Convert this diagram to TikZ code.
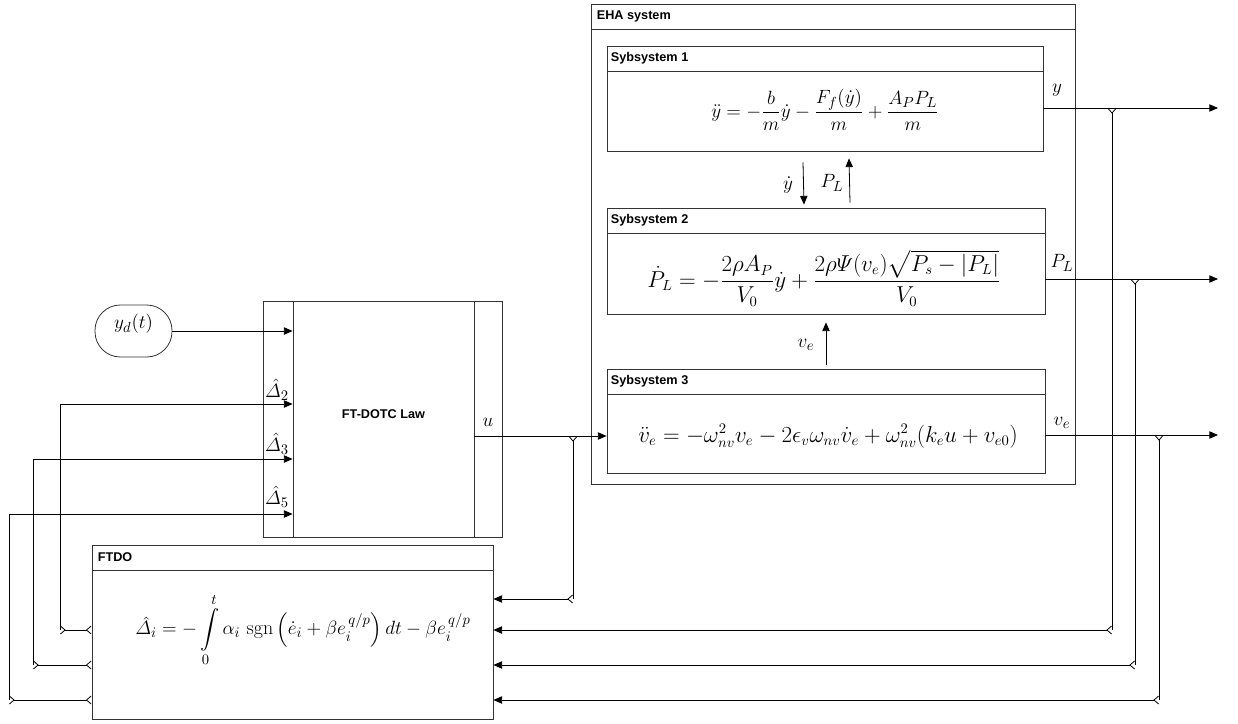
\documentclass[tikz,border=0pt]{standalone}
\usepackage{amsmath}
\usepackage{fontspec}
\setsansfont{Liberation Sans}
\usepackage{tikz}
\usetikzlibrary{arrows.meta, calc, fit}
\tikzset{
  blk/.style  ={draw=black!80, line width=0.6pt, inner sep=0pt},
  src/.style  ={blk, rounded corners=19pt},
  tfont/.style={font=\sffamily\bfseries\fontsize{9.5}{11}\selectfont},
  ttl/.style  ={tfont, anchor=west, inner sep=0pt},
  eqn/.style  ={font=\fontsize{16}{19}\selectfont, inner sep=0pt},
  lbl/.style  ={font=\fontsize{15}{18}\selectfont, inner sep=0pt},
  sig/.style  ={-{Triangle[length=6.5pt,width=5.5pt]}, line width=0.6pt},
  br/.style   ={{Straight Barb[reversed,length=3.5pt,width=6pt]}-, line width=0.6pt},
  brsig/.style={{Straight Barb[reversed,length=3.5pt,width=6pt]}-{Triangle[length=6.5pt,width=5.5pt]}, line width=0.6pt},
  bb/.style   ={{Straight Barb[reversed,length=3.5pt,width=6pt]}-{Straight Barb[reversed,length=3.5pt,width=6pt]}, line width=0.6pt},
}
\begin{document}
\begin{tikzpicture}[x=0.75pt, y=-0.75pt]
  \useasboundingbox (0,0) rectangle (1238,724);
  % control law and reference
  \node[blk, fit={(263,301) (502,537)}] (law) {};
  \node[blk, tfont, fit={(293,301) (474,537)}] (core) {FT-DOTC Law};
  \node[src, lbl, fit={(95,305) (172,357)}] (yd) {$y_d(t)$};
  % EHA system
  \node[blk, fit={(591,4) (1075,29)}] (ehah) {};
  \node[blk, fit={(591,29) (1075,484)}] (eha) {};
  \node[ttl] (ehat) at ([xshift=4.5pt]ehah.west) {EHA system};
  \node[blk, fit={(607,46) (1043,71)}] (s1h) {};
  \node[blk, fit={(607,71) (1043,151)}] (s1) {};
  \node[ttl] (s1t) at ([xshift=3pt]s1h.west) {Sybsystem 1};
  \node[eqn, font=\fontsize{15.5}{18}\selectfont] (s1e) at (825,110)
    {$\displaystyle \ddot{y} = -\frac{b}{m}\dot{y} - \frac{F_f(\dot{y})}{m} + \frac{A_P P_L}{m}$};
  \node[blk, fit={(607,208) (1045,233)}] (s2h) {};
  \node[blk, fit={(607,233) (1045,314)}] (s2) {};
  \node[ttl] (s2t) at ([xshift=3pt]s2h.west) {Sybsystem 2};
  \node[eqn] (s2e) at (824,278)
    {$\displaystyle \dot{P}_L = -\frac{2\rho A_P}{V_0}\dot{y} + \frac{2\rho\varPsi(v_e)\sqrt{P_s-|P_L|}}{V_0}$};
  \node[blk, fit={(607,369) (1045,394)}] (s3h) {};
  \node[blk, fit={(607,394) (1045,473)}] (s3) {};
  \node[ttl] (s3t) at ([xshift=3pt]s3h.west) {Sybsystem 3};
  \node[eqn] (s3e) at (828,436)
    {$\ddot{v}_e = -\omega_{nv}^2 v_e - 2\epsilon_v\omega_{nv}\dot{v}_e + \omega_{nv}^2(k_e u + v_{e0})$};
  % observer
  \node[blk, fit={(92,545) (493,570)}] (fdh) {};
  \node[blk, fit={(92,570) (493,719)}] (fd) {};
  \node[ttl] (fdt) at ([xshift=4.5pt]fdh.west) {FTDO};
  \node[eqn, font=\fontsize{15}{18}\selectfont] (fde) at (303,630)
    {$\displaystyle \hat{\varDelta}_i = -\int\limits_0^t \alpha_i\,\operatorname{sgn}\left(\dot{e}_i + \beta e_i^{\,q/p}\right)dt - \beta e_i^{\,q/p}$};

  % branch points and corners
  \coordinate (ju) at (573,436);
  \coordinate (ku) at (573,599);
  \coordinate (jy) at (1112,108);
  \coordinate (ky) at (1112,630);
  \coordinate (jp) at (1135,279);
  \coordinate (kp) at (1135,665);
  \coordinate (jv) at (1159,435);
  \coordinate (kv) at (1159,700);
  \coordinate (oy) at (1218,108);
  \coordinate (op) at (1218,279);
  \coordinate (ov) at (1218,435);
  \coordinate (d2) at (60,630);
  \coordinate (d3) at (33,665);
  \coordinate (d5) at (9,700);

  % forward signals
  \draw[sig] (yd.east) -- (yd.east -| core.west);
  \draw[sig] (core.east |- ju) -- (s3.west |- ju);
  \node[lbl] (lu) at (488,422) {$u$};
  \draw[sig] ($(s1.south)+(-22,11)$) -- ($(s2h.north)+(-22,-3)$);
  \node[lbl] (lyd) at (788,185) {$\dot{y}$};
  \draw[sig] ($(s2h.north)+(24,-5)$) -- ($(s1.south)+(24,7)$);
  \node[lbl] (lpl) at (832,183) {$P_L$};
  \draw[sig] ($(s3h.north)+(0,-4)$) -- ($(s2.south)+(0,8)$);
  \node[lbl] (lve) at (806,345) {$v_e$};

  % outputs
  \draw[sig] (s1.east |- jy) -- (oy);
  \node[lbl] (oyl) at (1057,90) {$y$};
  \draw[sig] (s2.east |- jp) -- (op);
  \node[lbl] (opl) at (1062,263) {$P_L$};
  \draw[sig] (s3.east |- jv) -- (ov);
  \node[lbl] (ovl) at (1062,423) {$v_e$};

  % feedback to the observer
  \draw[br] (ju) -- (ku);
  \draw[brsig] (ku) -- (ku -| fd.east);
  \draw[br] (jy) -- (ky);
  \draw[brsig] (ky) -- (ky -| fd.east);
  \draw[br] (jp) -- (kp);
  \draw[brsig] (kp) -- (kp -| fd.east);
  \draw[br] (jv) -- (kv);
  \draw[brsig] (kv) -- (kv -| fd.east);

  % estimates back to the control law
  \draw[bb] (d2) -- (d2 -| fd.west);
  \draw[sig] (d2) |- ($(core.west)+(0,-15)$);
  \node[lbl] (ld2) at (277,390) {$\hat{\varDelta}_2$};
  \draw[bb] (d3) -- (d3 -| fd.west);
  \draw[sig] (d3) |- ($(core.west)+(0,40)$);
  \node[lbl] (ld3) at (277,444) {$\hat{\varDelta}_3$};
  \draw[bb] (d5) -- (d5 -| fd.west);
  \draw[sig] (d5) |- ($(core.west)+(0,95)$);
  \node[lbl] (ld5) at (277,497) {$\hat{\varDelta}_5$};
\end{tikzpicture}
\end{document}
